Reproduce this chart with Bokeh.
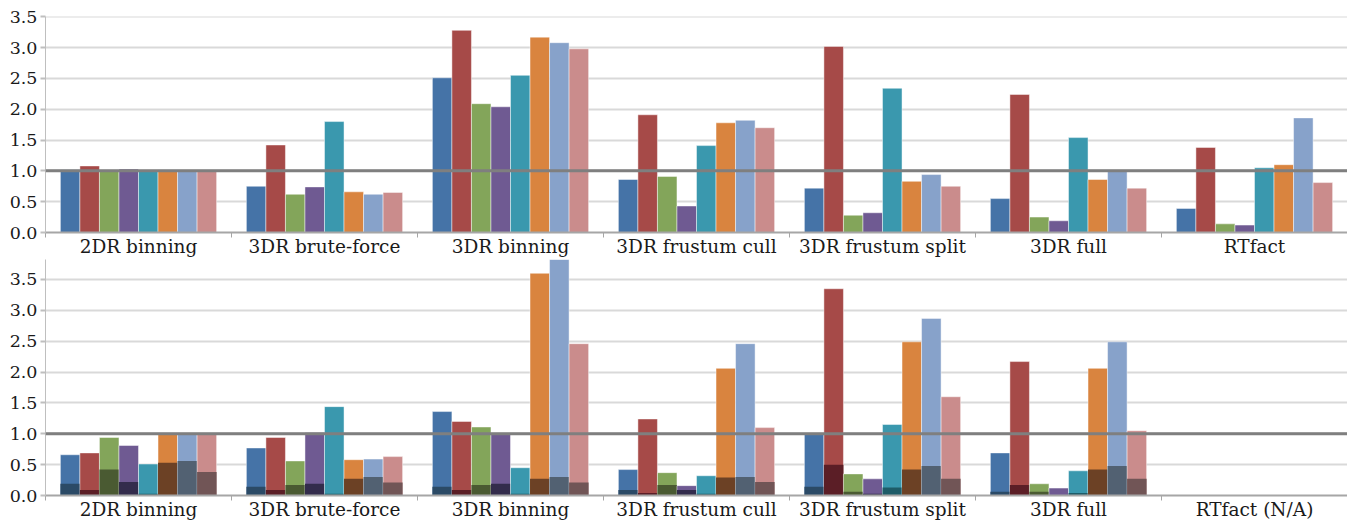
from bokeh.plotting import figure
from bokeh.layouts import column
from bokeh.models import Range1d, FixedTicker, Span, ColumnDataSource, PrintfTickFormatter
from bokeh.embed import file_html
from bokeh.resources import INLINE

# ---------------- data ----------------
categories_top = ["2DR binning", "3DR brute-force", "3DR binning", "3DR frustum cull",
                  "3DR frustum split", "3DR full", "RTfact"]
categories_bot = ["2DR binning", "3DR brute-force", "3DR binning", "3DR frustum cull",
                  "3DR frustum split", "3DR full", "RTfact (N/A)"]

# top panel: 8 series, one value per category
top_s1 = [1.02, 0.75, 2.51, 0.86, 0.72, 0.55, 0.39]
top_s2 = [1.08, 1.42, 3.28, 1.91, 3.02, 2.24, 1.38]
top_s3 = [1.01, 0.62, 2.09, 0.91, 0.28, 0.25, 0.14]
top_s4 = [1.03, 0.74, 2.04, 0.43, 0.32, 0.19, 0.12]
top_s5 = [1.01, 1.80, 2.55, 1.41, 2.34, 1.54, 1.05]
top_s6 = [1.00, 0.66, 3.17, 1.78, 0.83, 0.86, 1.10]
top_s7 = [0.99, 0.62, 3.08, 1.82, 0.94, 1.00, 1.86]
top_s8 = [1.00, 0.65, 2.98, 1.70, 0.75, 0.72, 0.81]

# bottom panel: total values (light) and inner part (dark); last category N/A
bot_s1 = [0.66, 0.77, 1.36, 0.42, 1.00, 0.69]
bot_s2 = [0.69, 0.94, 1.20, 1.24, 3.35, 2.17]
bot_s3 = [0.94, 0.56, 1.11, 0.37, 0.35, 0.19]
bot_s4 = [0.81, 1.02, 1.00, 0.16, 0.27, 0.12]
bot_s5 = [0.51, 1.44, 0.45, 0.32, 1.15, 0.40]
bot_s6 = [0.99, 0.58, 3.60, 2.06, 2.49, 2.06]
bot_s7 = [0.99, 0.59, 3.84, 2.46, 2.87, 2.49]
bot_s8 = [0.99, 0.63, 2.46, 1.10, 1.60, 1.05]

dark_s1 = [0.19, 0.14, 0.14, 0.09, 0.14, 0.06]
dark_s2 = [0.09, 0.09, 0.09, 0.04, 0.50, 0.17]
dark_s3 = [0.42, 0.17, 0.17, 0.17, 0.06, 0.06]
dark_s4 = [0.22, 0.19, 0.19, 0.09, 0.03, 0.01]
dark_s5 = [0.03, 0.03, 0.03, 0.03, 0.13, 0.04]
dark_s6 = [0.53, 0.27, 0.27, 0.29, 0.42, 0.42]
dark_s7 = [0.56, 0.30, 0.30, 0.30, 0.48, 0.48]
dark_s8 = [0.38, 0.21, 0.21, 0.22, 0.27, 0.27]

y_ticks = [0.0, 0.5, 1.0, 1.5, 2.0, 2.5, 3.0, 3.5]

light_colors = ["#4573A7", "#A64A48", "#83A55A", "#6F5A92", "#3A98AE", "#D9843F", "#87A2CA", "#CA8C8C"]
dark_colors = ["#2B4A66", "#5B1E26", "#4A5A32", "#332C4C", "#1E5C68", "#6C4125", "#526172", "#715556"]

top_series = [top_s1, top_s2, top_s3, top_s4, top_s5, top_s6, top_s7, top_s8]
bot_series = [bot_s1, bot_s2, bot_s3, bot_s4, bot_s5, bot_s6, bot_s7, bot_s8]
dark_series = [dark_s1, dark_s2, dark_s3, dark_s4, dark_s5, dark_s6, dark_s7, dark_s8]

FONT = "DejaVu Serif"
BAR_W = 0.105
N_SER = 8


def make_fig(labels, y_end, frame_h, border_top, standoff):
    n = len(labels)
    p = figure(frame_width=1302, frame_height=frame_h, output_backend="svg",
               toolbar_location=None, x_range=Range1d(0, n), y_range=Range1d(0, y_end),
               min_border_left=45, min_border_right=0, min_border_top=border_top,
               min_border_bottom=0)
    p.outline_line_color = None
    p.background_fill_color = "white"
    p.border_fill_color = "white"

    # x axis: labels at category centres, small ticks at category boundaries
    xt = FixedTicker(ticks=[i + 0.5 for i in range(n)], minor_ticks=list(range(n + 1)))
    p.xaxis.ticker = xt
    p.xaxis.major_label_overrides = {i + 0.5: lab for i, lab in enumerate(labels)}
    p.xaxis.major_tick_out = 0
    p.xaxis.major_tick_in = 0
    p.xaxis.minor_tick_out = 5
    p.xaxis.minor_tick_in = 0
    p.xaxis.minor_tick_line_color = "#A6A6A6"
    p.xaxis.minor_tick_line_width = 1
    p.xaxis.axis_line_color = "#A6A6A6"
    p.xaxis.axis_line_width = 2
    p.xaxis.major_label_text_font = FONT
    p.xaxis.major_label_text_font_size = "18.5px"
    p.xaxis.major_label_text_color = "#1A1A1A"
    p.xaxis.major_label_standoff = standoff
    p.xgrid.visible = False

    # y axis
    p.yaxis.ticker = FixedTicker(ticks=y_ticks)
    p.yaxis.formatter = PrintfTickFormatter(format="%.1f")
    p.yaxis.major_tick_out = 5
    p.yaxis.major_tick_in = 0
    p.yaxis.major_tick_line_color = "#BFBFBF"
    p.yaxis.major_tick_line_width = 2
    p.yaxis.minor_tick_line_color = None
    p.yaxis.axis_line_color = "#BFBFBF"
    p.yaxis.axis_line_width = 1
    p.yaxis.major_label_text_font = FONT
    p.yaxis.major_label_text_font_size = "17.5px"
    p.yaxis.major_label_text_color = "#1A1A1A"
    p.yaxis.major_label_standoff = 3
    p.ygrid.ticker = FixedTicker(ticks=y_ticks[1:])
    p.ygrid.grid_line_color = "#D9D9D9"
    p.ygrid.grid_line_width = 2
    return p


def add_ref_line(p):
    p.add_layout(Span(location=1.0, dimension="width", line_color="#7F7F7F", line_width=3))


def bar_x(k, count):
    offset = (k - (N_SER - 1) / 2.0) * BAR_W
    return [i + 0.5 + offset for i in range(count)]


# ---------------- top panel ----------------
p1 = make_fig(categories_top, 3.505, 216, 16, -2)
for k in range(N_SER):
    vals = top_series[k]
    src = ColumnDataSource(dict(x=bar_x(k, len(vals)), top=vals))
    p1.vbar(x="x", top="top", bottom=0, width=BAR_W, source=src,
            fill_color=light_colors[k], line_color="white", line_alpha=0.45, line_width=1)
add_ref_line(p1)

# ---------------- bottom panel ----------------
p2 = make_fig(categories_bot, 3.824, 236, 0, -2)
for k in range(N_SER):
    vals = bot_series[k]
    dvals = dark_series[k]
    src = ColumnDataSource(dict(x=bar_x(k, len(vals)), top=vals, dtop=dvals))
    p2.vbar(x="x", top="top", bottom=0, width=BAR_W, source=src,
            fill_color=light_colors[k], line_color="white", line_alpha=0.45, line_width=1)
    p2.vbar(x="x", top="dtop", bottom=0, width=BAR_W, source=src,
            fill_color=dark_colors[k], line_color=None)
add_ref_line(p2)

layout = column(p1, p2, spacing=0)
open("out.html", "w").write(file_html(layout, INLINE))
